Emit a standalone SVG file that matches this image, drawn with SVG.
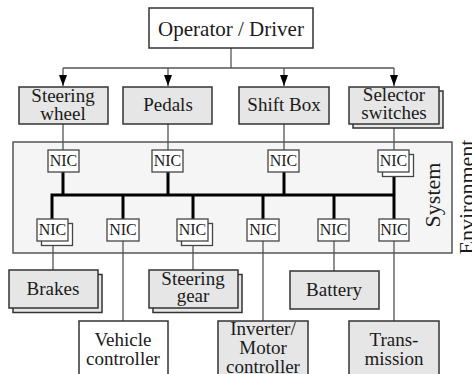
<svg xmlns="http://www.w3.org/2000/svg" width="472" height="374" viewBox="0 0 472 374">
  <style>
    text { font-family: Liberation Serif, Times New Roman, Times, Tinos, Nimbus Roman, Noto Serif, DejaVu Serif, serif; fill: #1a1a1a; text-anchor: middle; }
    .lbl { font-size: 19px; }
    .nict { font-size: 16px; }
    .big { font-size: 22px; }
    .box { fill: #e6e6e6; stroke: #333; stroke-width: 1.5; }
    .wbox { fill: #ffffff; stroke: #333; stroke-width: 1.5; }
    .nic { fill: #ffffff; stroke: #444; stroke-width: 1.3; }
    .thin { fill: none; stroke: #555; stroke-width: 1.3; }
    .bus { fill: none; stroke: #000; stroke-width: 3; }
  </style>
  <defs>
    <marker id="arrd" viewBox="0 0 8 11" refX="4" refY="11" markerWidth="8" markerHeight="11" markerUnits="userSpaceOnUse" orient="0">
      <path d="M0,0 L8,0 L4,11 z" fill="#000"/>
    </marker>
  </defs>

  <g id="system-boundary">
    <rect x="13" y="142" width="439" height="111" fill="#f5f5f5" stroke="#555" stroke-width="1.5"/>
    <text class="big" transform="translate(440,195) rotate(-90)">System</text>
  </g>
  <g id="environment-label">
    <text class="big" transform="translate(474,197) rotate(-90)">Environment</text>
  </g>

  <g id="connectors">
    <path class="thin" d="M231,48 V68 M63,68 H394"/>
    <path class="thin" d="M63,68 V86" marker-end="url(#arrd)"/>
    <path class="thin" d="M168,68 V86" marker-end="url(#arrd)"/>
    <path class="thin" d="M284,68 V86" marker-end="url(#arrd)"/>
    <path class="thin" d="M394,68 V86" marker-end="url(#arrd)"/>
    <path class="thin" d="M63,124 V150 M168,124 V150 M284,124 V150 M394,128 V150"/>
    <path class="bus" d="M52,219 V195 H394 M63,172 V195 M168,172 V195 M284,172 V195 M394,172 V219 M123,195 V219 M193,195 V219 M263,195 V219 M334,195 V219"/>
    <path class="thin" d="M53,245 V270 M123,241 V321 M193,245 V270 M263,241 V321 M334,241 V271 M394,241 V321"/>
  </g>

  <g id="operator">
    <rect class="wbox" x="149" y="8" width="164" height="40"/>
    <text style="font-size:21px" x="231" y="36">Operator / Driver</text>
  </g>
  <g id="steering-wheel">
    <rect class="box" x="19" y="87" width="89" height="37"/>
    <text class="lbl" x="63" y="102">Steering</text>
    <text class="lbl" x="63" y="120">wheel</text>
  </g>
  <g id="pedals">
    <rect class="box" x="123" y="87" width="89" height="37"/>
    <text class="lbl" x="168" y="111">Pedals</text>
  </g>
  <g id="shift-box">
    <rect class="box" x="239" y="87" width="90" height="37"/>
    <text class="lbl" x="284" y="111">Shift Box</text>
  </g>
  <g id="selector-switches">
    <rect class="box" x="353" y="91" width="90" height="37"/>
    <rect class="box" x="349" y="87" width="90" height="37"/>
    <text class="lbl" x="394" y="101">Selector</text>
    <text class="lbl" x="394" y="119">switches</text>
  </g>

  <g id="nic-steering-wheel">
    <rect class="nic" x="48" y="150" width="31" height="22"/>
    <text class="nict" x="63.5" y="166">NIC</text>
  </g>
  <g id="nic-pedals">
    <rect class="nic" x="152" y="150" width="31" height="22"/>
    <text class="nict" x="167.5" y="166">NIC</text>
  </g>
  <g id="nic-shift-box">
    <rect class="nic" x="268" y="150" width="31" height="22"/>
    <text class="nict" x="283.5" y="166">NIC</text>
  </g>
  <g id="nic-selector">
    <rect class="nic" x="382.5" y="154.5" width="31" height="22"/>
    <rect class="nic" x="378" y="150" width="31" height="22"/>
    <text class="nict" x="393.5" y="166">NIC</text>
  </g>

  <g id="nic-brakes">
    <rect class="nic" x="41.5" y="223.5" width="31" height="22"/>
    <rect class="nic" x="37" y="219" width="31" height="22"/>
    <text class="nict" x="52.5" y="235">NIC</text>
  </g>
  <g id="nic-vehicle">
    <rect class="nic" x="107" y="219" width="32" height="22"/>
    <text class="nict" x="123" y="235">NIC</text>
  </g>
  <g id="nic-steering-gear">
    <rect class="nic" x="181.5" y="223.5" width="31" height="22"/>
    <rect class="nic" x="177" y="219" width="31" height="22"/>
    <text class="nict" x="192.5" y="235">NIC</text>
  </g>
  <g id="nic-inverter">
    <rect class="nic" x="247" y="219" width="32" height="22"/>
    <text class="nict" x="263" y="235">NIC</text>
  </g>
  <g id="nic-battery">
    <rect class="nic" x="318" y="219" width="31" height="22"/>
    <text class="nict" x="333.5" y="235">NIC</text>
  </g>
  <g id="nic-transmission">
    <rect class="nic" x="379" y="219" width="30" height="22"/>
    <text class="nict" x="394" y="235">NIC</text>
  </g>

  <g id="brakes">
    <rect class="box" x="13" y="274.5" width="89" height="38"/>
    <rect class="box" x="9" y="270" width="89" height="38"/>
    <text class="lbl" x="53" y="295">Brakes</text>
  </g>
  <g id="steering-gear">
    <rect class="box" x="153" y="274.5" width="89" height="38"/>
    <rect class="box" x="149" y="270" width="89" height="38"/>
    <text class="lbl" x="193" y="285">Steering</text>
    <text class="lbl" x="193" y="302">gear</text>
  </g>
  <g id="battery">
    <rect class="box" x="290" y="271" width="89" height="38"/>
    <text class="lbl" x="334" y="296">Battery</text>
  </g>
  <g id="vehicle-controller">
    <rect class="wbox" x="79" y="321" width="89" height="60"/>
    <text class="lbl" x="123" y="346">Vehicle</text>
    <text class="lbl" x="123" y="365">controller</text>
  </g>
  <g id="inverter-motor-controller">
    <rect class="box" x="218" y="321" width="90" height="60"/>
    <text class="lbl" x="263" y="335">Inverter/</text>
    <text class="lbl" x="263" y="354">Motor</text>
    <text class="lbl" x="263" y="373">controller</text>
  </g>
  <g id="transmission">
    <rect class="box" x="349" y="321" width="90" height="60"/>
    <text class="lbl" x="394" y="346">Trans-</text>
    <text class="lbl" x="394" y="365">mission</text>
  </g>
</svg>
